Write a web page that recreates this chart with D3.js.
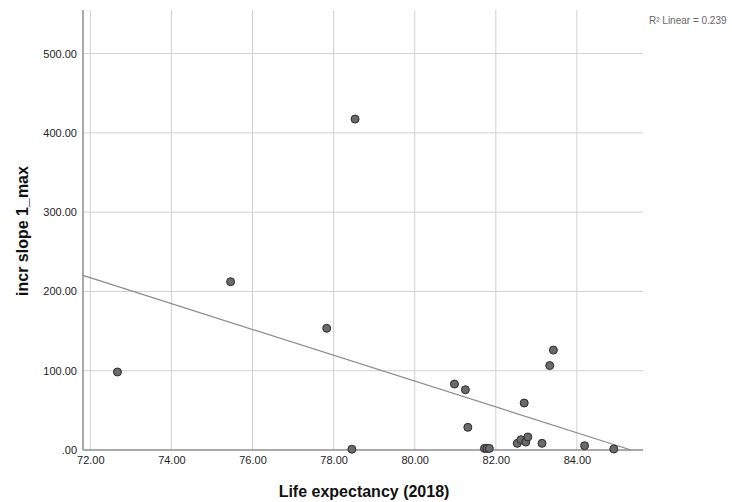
<!DOCTYPE html>
<html>
<head>
<meta charset="utf-8">
<script src="https://cdn.jsdelivr.net/npm/d3@7"></script>
<style>
  body { margin: 0; background: #fff; }
  text { font-family: "Liberation Sans", Arial, sans-serif; }
</style>
</head>
<body>
<svg id="chart" width="732" height="502"></svg>
<script>
// life expectancy (2018) vs incr slope 1_max
const lifeExp = [72.67, 75.46, 77.83, 78.45, 78.53, 80.98, 81.25, 81.31, 81.72, 81.78, 81.84,
                 82.53, 82.62, 82.70, 82.74, 82.79, 83.14, 83.33, 83.42, 84.19, 84.91]
const slopeMax = [98.4, 212.3, 153.5, 1.0, 417.4, 83.2, 76.0, 28.6, 2.0, 2.0, 2.0,
                  8.4, 13.0, 59.3, 10.0, 16.4, 8.4, 106.5, 126.0, 5.4, 1.3]
const xTicks = [72, 74, 76, 78, 80, 82, 84]
const yTicks = [0, 100, 200, 300, 400, 500]
const r2Label = 'R\u00B2 Linear = 0.239'

const plotLeft = 83, plotRight = 643, plotTop = 10, plotBottom = 450

const x = d3.scaleLinear().domain([71.82, 85.63]).range([plotLeft, plotRight])
const y = d3.scaleLinear().domain([0, 555]).range([plotBottom, plotTop])

const svg = d3.select('#chart')

// gridlines
svg.append('g')
	.selectAll('line')
	.data(yTicks.slice(1))
	.join('line')
	.attr('x1', plotLeft).attr('x2', plotRight)
	.attr('y1', d => y(d)).attr('y2', d => y(d))
	.attr('stroke', '#d0d0d0')
	.attr('stroke-width', 1)

svg.append('g')
	.selectAll('line')
	.data(xTicks)
	.join('line')
	.attr('x1', d => x(d)).attr('x2', d => x(d))
	.attr('y1', plotTop).attr('y2', plotBottom)
	.attr('stroke', '#d0d0d0')
	.attr('stroke-width', 1)

// axes
const fmt = d => d === 0 ? '.00' : d3.format('.2f')(d)

const yAxis = svg.append('g')
	.attr('transform', `translate(${plotLeft},0)`)
	.call(d3.axisLeft(y).tickValues(yTicks).tickFormat(fmt).tickSize(0).tickPadding(6))
yAxis.select('.domain').attr('stroke', '#8c8c8c').attr('stroke-width', 1.5)
	.attr('d', `M0,${plotTop}V${plotBottom}`)
yAxis.selectAll('text').attr('font-size', 11).attr('fill', '#222')
	.attr('font-family', '"Liberation Sans", Arial, sans-serif')

const xAxis = svg.append('g')
	.attr('transform', `translate(0,${plotBottom})`)
	.call(d3.axisBottom(x).tickValues(xTicks).tickFormat(d3.format('.2f')).tickSize(0).tickPadding(6))
xAxis.select('.domain').attr('stroke', '#8c8c8c').attr('stroke-width', 1.5)
	.attr('d', `M${plotLeft},0H${plotRight}`)
xAxis.selectAll('text').attr('font-size', 11).attr('fill', '#222')
	.attr('font-family', '"Liberation Sans", Arial, sans-serif')

// linear fit from the points
const mx = d3.mean(lifeExp), my = d3.mean(slopeMax)
const sxy = d3.sum(lifeExp, (v, i) => (v - mx) * (slopeMax[i] - my))
const sxx = d3.sum(lifeExp, v => (v - mx) * (v - mx))
const b = sxy / sxx, a = my - b * mx
const xEnd = Math.min(x.domain()[1], -a / b)

svg.append('line')
	.attr('x1', x(x.domain()[0])).attr('y1', y(a + b * x.domain()[0]))
	.attr('x2', x(xEnd)).attr('y2', y(a + b * xEnd))
	.attr('stroke', '#8a8a8a')
	.attr('stroke-width', 1.2)

// points
svg.append('g')
	.selectAll('circle')
	.data(lifeExp)
	.join('circle')
	.attr('cx', d => x(d))
	.attr('cy', (d, i) => y(slopeMax[i]))
	.attr('r', 4)
	.attr('fill', '#6a6a6a')
	.attr('stroke', '#2b2b2b')
	.attr('stroke-width', 1)

// titles
svg.append('text')
	.attr('x', 364)
	.attr('y', 497)
	.attr('text-anchor', 'middle')
	.attr('font-size', 16)
	.attr('font-weight', 'bold')
	.attr('fill', '#111')
	.text('Life expectancy (2018)')

svg.append('text')
	.attr('transform', `translate(28,${(plotTop + plotBottom) / 2 + 1}) rotate(-90)`)
	.attr('text-anchor', 'middle')
	.attr('font-size', 16)
	.attr('font-weight', 'bold')
	.attr('fill', '#111')
	.text('incr slope 1_max')

svg.append('text')
	.attr('x', 649)
	.attr('y', 24)
	.attr('font-size', 10)
	.attr('fill', '#666')
	.text(r2Label)
</script>
</body>
</html>
